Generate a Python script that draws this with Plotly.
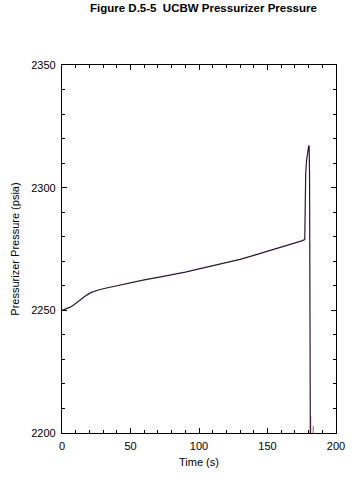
import plotly.graph_objects as go

# UCBW pressurizer pressure transient
time_s = [0, 3, 6, 9, 12, 15, 18, 21, 23, 26, 30, 40, 50, 60, 70, 80, 90, 100,
          110, 120, 130, 140, 150, 160, 170, 175, 177.2, 177.3, 177.5, 177.9,
          178.5, 179.3, 180.0, 180.4, 180.7, 181.0, 181.3]
pressure_psia = [2250.0, 2250.5, 2251.3, 2252.4, 2253.7, 2255.0, 2256.2, 2257.2,
                 2257.7, 2258.2, 2258.8, 2260.1, 2261.3, 2262.4, 2263.4, 2264.4,
                 2265.6, 2266.9, 2268.1, 2269.4, 2270.8, 2272.4, 2274.0, 2275.6,
                 2277.3, 2278.3, 2278.8, 2285.0, 2298.0, 2306.0, 2311.0, 2314.8,
                 2316.8, 2317.2, 2305.0, 2250.0, 2190.0]

# second (red) case, visible only at the end of the transient
time_red = [181.4, 181.5, 181.6, 183.3, 183.4, 183.5]
pressure_red = [2199.0, 2207.0, 2199.0, 2199.0, 2203.0, 2199.0]

x_ticks = [0, 50, 100, 150, 200]
y_ticks = [2200, 2250, 2300, 2350]

FONT = "Liberation Sans, Arial, sans-serif"

fig = go.Figure()
fig.add_trace(go.Scatter(x=time_red, y=pressure_red, mode="lines",
                         line=dict(color="#e0607a", width=1.1),
                         showlegend=False, hoverinfo="skip"))
fig.add_trace(go.Scatter(x=time_s, y=pressure_psia, mode="lines",
                         line=dict(color="#2a1830", width=1.2),
                         showlegend=False))

axis_common = dict(
    showgrid=False, zeroline=False, showline=True, linecolor="black",
    linewidth=1.3, mirror="ticks", ticks="inside", ticklen=5, tickwidth=1,
    tickcolor="black", ticklabelstandoff=3,
    tickfont=dict(family=FONT, size=11, color="black"),
)

fig.update_layout(
    width=358, height=480,
    margin=dict(l=62, r=22, t=65, b=47),
    paper_bgcolor="white", plot_bgcolor="white",
    xaxis=dict(range=[0, 200], tickvals=x_ticks, ticktext=[str(v) for v in x_ticks],
               minor=dict(dtick=10, tick0=0, ticks="inside", ticklen=3,
                          tickcolor="black", tickwidth=1),
               title=dict(text="Time (s)", standoff=6,
                          font=dict(family=FONT, size=11, color="black")),
               **axis_common),
    yaxis=dict(range=[2200, 2350], tickvals=y_ticks, ticktext=[str(v) for v in y_ticks],
               minor=dict(dtick=10, tick0=2200, ticks="inside", ticklen=3,
                          tickcolor="black", tickwidth=1),
               title=dict(text="Pressurizer Pressure (psia)", standoff=9,
                          font=dict(family=FONT, size=11, color="black")),
               **axis_common),
    annotations=[dict(text="<b>Figure D.5-5  UCBW Pressurizer Pressure</b>",
                      xref="paper", yref="paper", x=0.515, y=1 + (65 - 8) / 368,
                      xanchor="center", yanchor="middle", showarrow=False,
                      font=dict(family=FONT, size=11.5, color="black"))],
)

fig.write_html("out.html",
               config={"displayModeBar": False},
               post_script="document.body.style.margin='0';"
                           "document.body.style.overflow='hidden';")
